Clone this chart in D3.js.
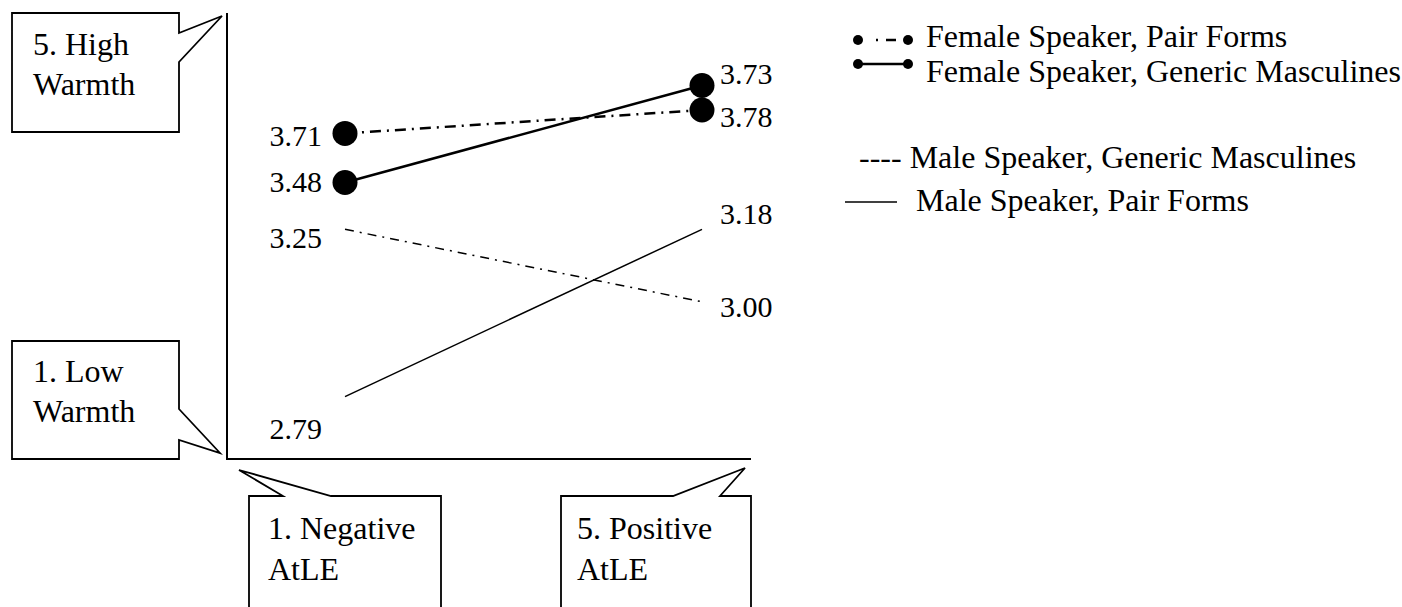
<!DOCTYPE html>
<html>
<head>
<meta charset="utf-8">
<script src="https://cdn.jsdelivr.net/npm/d3@7"></script>
<style>
  html, body { margin: 0; padding: 0; background: #fff; }
  svg { display: block; }
</style>
</head>
<body>
<svg id="chart" width="1402" height="607"></svg>
<script>
// ---------------- DATA ----------------
// x categories (Attitude towards Linguistic Equality, 1..5)
const xCategories = ["1. Negative AtLE", "5. Positive AtLE"];
const xLevels = [1, 5];

// series names (legend order)
const seriesNames = [
  "Female Speaker, Pair Forms",
  "Female Speaker, Generic Masculines",
  "Male Speaker, Generic Masculines",
  "Male Speaker, Pair Forms"
];

// printed mean values (labels as printed in the figure)
const femalePairLabels    = ["3.71", "3.78"];
const femaleGenericLabels = ["3.48", "3.73"];
const maleGenericLabels   = ["3.25", "3.00"];
const malePairLabels      = ["2.79", "3.18"];

// plotted level of each end point on the 1..5 warmth axis (the figure is schematic)
const femalePairLevels    = [3.92, 4.13];
const femaleGenericLevels = [3.48, 4.35];
const maleGenericLevels   = [3.06, 2.41];
const malePairLevels      = [1.56, 3.06];

// y axis end labels
const yEndLabels = [["5. High", "Warmth"], ["1. Low", "Warmth"]];

// ---------------- LAYOUT ----------------
const FONT = "Liberation Serif";
const svg = d3.select("#chart");
const FS = 32, FS_VAL = 30;
const axisLeft = 227, axisBottom = 459, axisTop = 13, axisRight = 751;

const x = d3.scaleLinear().domain([1, 5]).range([345, 702]);
const y = d3.scaleLinear().domain([1, 5]).range([axisBottom, axisTop]);

function txt(g, xx, yy, t, fs) {
  return g.append("text").attr("x", xx).attr("y", yy)
    .style("font-family", FONT).style("font-size", (fs || FS) + "px")
    .attr("fill", "#000").text(t);
}

// axes
svg.append("line").attr("x1", axisLeft).attr("x2", axisLeft)
  .attr("y1", axisTop).attr("y2", axisBottom + 1)
  .attr("stroke", "#000").attr("stroke-width", 2);
svg.append("line").attr("x1", axisLeft).attr("x2", axisRight)
  .attr("y1", axisBottom).attr("y2", axisBottom)
  .attr("stroke", "#000").attr("stroke-width", 2);

// callouts
const callouts = [
  { d: "M12,13 H179 V33 L222,16 L179,62 V132 H12 Z", lines: yEndLabels[0], tx: 33, ty: [55, 95] },
  { d: "M12,341 H179 V409 L220,453 L179,440 V459 H12 Z", lines: yEndLabels[1], tx: 33, ty: [382, 422] },
  { d: "M249,612 V496 H283 L239,470 L331,496 H441 V612", lines: xCategories[0].replace(" AtLE", "|AtLE").split("|"), tx: 268, ty: [539, 580] },
  { d: "M561,612 V496 H673 L745,468 L720,496 H751 V612", lines: xCategories[1].replace(" AtLE", "|AtLE").split("|"), tx: 577, ty: [539, 580] }
];
callouts.forEach(c => {
  svg.append("path").attr("d", c.d).attr("fill", "#fff")
    .attr("stroke", "#000").attr("stroke-width", 1.8).attr("stroke-linejoin", "miter");
  c.lines.forEach((t, i) => txt(svg, c.tx, c.ty[i], t));
});

// series definitions
const series = [
  { name: seriesNames[0], levels: femalePairLevels, labels: femalePairLabels,
    width: 2.5, dash: "11,6,2,6", dots: true, shift: [2, 6] },
  { name: seriesNames[1], levels: femaleGenericLevels, labels: femaleGenericLabels,
    width: 2.5, dash: null, dots: true, shift: [-1, -12] },
  { name: seriesNames[2], levels: maleGenericLevels, labels: maleGenericLabels,
    width: 1.5, dash: "9,6,2,6", dots: false, shift: [8, 4] },
  { name: seriesNames[3], levels: malePairLevels, labels: malePairLabels,
    width: 1.5, dash: null, dots: false, shift: [31, -16] }
];

const line = d3.line().x((d, i) => x(xLevels[i])).y(d => y(d));

series.forEach(s => {
  svg.append("path").datum(s.levels)
    .attr("d", line)
    .attr("fill", "none")
    .attr("stroke", "#000")
    .attr("stroke-width", s.width)
    .attr("stroke-dasharray", s.dash);
});
series.filter(s => s.dots).forEach(s => {
  svg.selectAll(null).data(s.levels).enter().append("circle")
    .attr("cx", (d, i) => x(xLevels[i]))
    .attr("cy", d => y(d))
    .attr("r", 12.5)
    .attr("fill", "#000");
});

// value labels
series.forEach(s => {
  s.labels.forEach((lab, i) => {
    const left = i === 0;
    txt(svg, left ? x(xLevels[0]) - 23 : x(xLevels[1]) + 18, y(s.levels[i]) + s.shift[i] + 11, lab, FS_VAL)
      .attr("text-anchor", left ? "end" : "start");
  });
});

// legend
const lg = svg.append("g");
// row 1: female pair forms (dot, small dot, dash, dot)
lg.append("line").attr("x1", 858).attr("x2", 908).attr("y1", 40).attr("y2", 40)
  .attr("stroke", "#000").attr("stroke-width", 2.5).attr("stroke-dasharray", "0,18,2,8,10,100");
[858, 908].forEach(cx => lg.append("circle").attr("cx", cx).attr("cy", 40).attr("r", 5).attr("fill", "#000"));
txt(lg, 926, 47, seriesNames[0]);
// row 2: female generic masculines
lg.append("line").attr("x1", 858).attr("x2", 908).attr("y1", 64).attr("y2", 64)
  .attr("stroke", "#000").attr("stroke-width", 2.5);
[858, 908].forEach(cx => lg.append("circle").attr("cx", cx).attr("cy", 64).attr("r", 5).attr("fill", "#000"));
txt(lg, 926, 82, seriesNames[1]);
// row 3: male generic masculines
txt(lg, 859, 168, "---- " + seriesNames[2]);
// row 4: male pair forms
lg.append("line").attr("x1", 845).attr("x2", 897).attr("y1", 202).attr("y2", 202)
  .attr("stroke", "#000").attr("stroke-width", 1.5);
txt(lg, 916, 211, seriesNames[3]);
</script>
</body>
</html>
